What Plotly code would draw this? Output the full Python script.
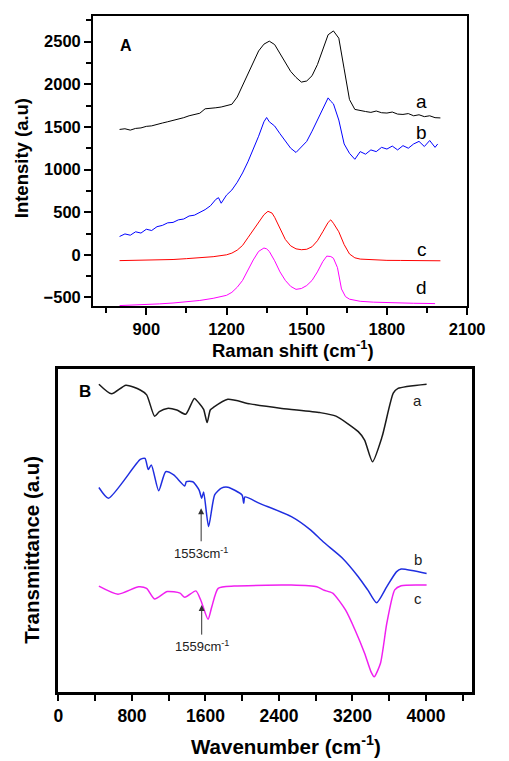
import plotly.graph_objects as go

# ---------------- Panel A: Raman spectra ----------------
raman_a_x = [800, 820, 840, 860, 880, 900, 920, 940, 960, 980, 1000, 1020, 1040, 1060, 1080, 1100,
             1120, 1140, 1160, 1180, 1200, 1220, 1240, 1260, 1280, 1300, 1320, 1340, 1360, 1380,
             1400, 1420, 1440, 1460, 1480, 1500, 1520, 1540, 1560, 1580, 1600, 1620, 1640, 1660,
             1680, 1700, 1720, 1740, 1760, 1780, 1800, 1820, 1840, 1860, 1880, 1900, 1920, 1940,
             1960, 1980, 2000]
raman_a_y = [1470, 1478, 1462, 1482, 1488, 1506, 1512, 1532, 1545, 1560, 1574, 1594, 1608, 1630, 1642, 1660,
             1712, 1716, 1724, 1733, 1750, 1765, 1850, 1990, 2130, 2250, 2390, 2470, 2505, 2465,
             2360, 2250, 2150, 2080, 2025, 2038, 2100, 2230, 2400, 2580, 2625, 2540, 2180, 1820,
             1705, 1690, 1680, 1670, 1686, 1666, 1662, 1674, 1650, 1646, 1656, 1630, 1642, 1620,
             1630, 1608, 1605]

raman_b_x = [800, 820, 840, 860, 880, 900, 920, 940, 960, 980, 1000, 1020, 1040, 1060, 1080, 1100,
             1120, 1140, 1160, 1170, 1180, 1200, 1220, 1240, 1260, 1280, 1300, 1320, 1340, 1350,
             1360, 1380, 1400, 1420, 1440, 1460, 1480, 1500, 1520, 1540, 1560, 1580, 1590, 1600,
             1620, 1640, 1660, 1680, 1700, 1720, 1740, 1760, 1780, 1800, 1820, 1840, 1860, 1880,
             1900, 1920, 1940, 1960, 1980, 1990]
raman_b_y = [215, 245, 230, 270, 255, 300, 285, 330, 345, 375, 380, 410, 420, 455, 465, 500,
             530, 575, 650, 670, 605, 700, 760, 850, 960, 1090, 1230, 1390, 1560, 1610,
             1560, 1510, 1420, 1330, 1250, 1200, 1260, 1330, 1450, 1580, 1720, 1840, 1800, 1770,
             1580, 1300, 1190, 1120, 1210, 1180, 1230, 1210, 1260, 1240, 1275, 1230, 1280, 1250,
             1300, 1330, 1270, 1340, 1260, 1300]

raman_c_x = [800, 850, 900, 950, 1000, 1050, 1100, 1150, 1200, 1220, 1240, 1260, 1280, 1300, 1320,
             1340, 1355, 1370, 1380, 1400, 1420, 1440, 1460, 1480, 1500, 1520, 1540, 1560, 1580,
             1590, 1600, 1620, 1640, 1660, 1680, 1700, 1750, 1800, 1850, 1900, 1950, 2000]
raman_c_y = [-68, -65, -62, -60, -55, -45, -35, -22, 0, 20, 55, 110, 200, 290, 390,
             470, 510, 490, 440, 300, 180, 105, 70, 60, 65, 95, 165, 270, 380,
             410, 370, 270, 120, 10, -35, -50, -60, -65, -66, -68, -68, -70]

raman_d_x = [800, 850, 900, 950, 1000, 1050, 1100, 1150, 1200, 1220, 1240, 1260, 1280, 1300, 1320,
             1340, 1350, 1360, 1380, 1400, 1420, 1440, 1460, 1480, 1500, 1520, 1540, 1560, 1575,
             1590, 1600, 1615, 1630, 1645, 1660, 1700, 1750, 1800, 1850, 1900, 1950, 1980]
raman_d_y = [-595, -590, -585, -575, -565, -550, -535, -510, -475, -440, -380, -300, -180, -60, 40,
             80, 70, 40, -70, -200, -300, -370, -405, -395, -360, -300, -200, -80, -15,
             -20, -40, -150, -400, -490, -520, -545, -555, -562, -565, -568, -570, -572]

# ---------------- Panel B: FTIR spectra ----------------
ftir_a_x = [440, 578, 734, 890, 960, 1046, 1098, 1184, 1288, 1385, 1479, 1531, 1580, 1618, 1652, 1686,
            1843, 2085, 2431, 2847, 3020, 3263, 3332, 3418, 3522, 3644, 3696, 4007]
ftir_a_y = [95.3, 92.3, 95.0, 93.5, 92.0, 85.4, 86.8, 87.8, 87.3, 86.0, 90.9, 89.4, 87.5, 83.4, 87.3, 88.1,
            90.6, 89.2, 87.8, 86.5, 85.4, 80.6, 78.0, 71.3, 79.0, 92.5, 94.0, 95.3]

ftir_b_x = [440, 544, 890, 942, 977, 1011, 1091, 1167, 1254, 1375, 1392, 1462, 1531, 1559, 1580, 1634,
            1700, 1773, 1843, 1998, 2016, 2030, 2189, 2535, 2743, 2881, 3089, 3263, 3366, 3463,
            3574, 3678, 3730, 4007]
ftir_b_y = [63.3, 60.0, 72.0, 72.3, 68.9, 70.3, 62.3, 68.2, 67.2, 63.8, 65.1, 65.1, 62.5, 60.0, 61.9, 51.2,
            61.0, 63.1, 63.4, 61.0, 58.4, 60.4, 58.4, 54.3, 50.2, 46.5, 41.5, 35.7, 31.6, 27.6,
            32.6, 37.2, 38.1, 36.7]

ftir_c_x = [440, 648, 873, 959, 1046, 1184, 1323, 1375, 1496, 1548, 1628, 1669, 1738, 1912, 2431,
            2535, 2812, 2881, 2985, 3124, 3228, 3332, 3401, 3436, 3505, 3574, 3660, 3730, 4007]
ftir_c_y = [32.8, 30.3, 32.6, 32.1, 28.8, 31.1, 30.6, 29.3, 31.3, 28.5, 22.5, 26.4, 32.1, 32.8, 33.1,
            33.1, 32.6, 31.6, 30.6, 25.4, 19.2, 12.0, 6.3, 4.7, 8.9, 21.3, 31.6, 32.9, 33.1]

# peak markers: wavenumber, arrow tip, label height
peak_pos = [1553, 1559]
peak_tip = [56.9, 26.9]
peak_text_y = [43.1, 14.2]

W, H = 509, 761
FONT = "Liberation Sans"

fig = go.Figure()

for xs, ys, col in [(raman_a_x, raman_a_y, "#000000"), (raman_b_x, raman_b_y, "#0000ff"),
                    (raman_c_x, raman_c_y, "#ff0000"), (raman_d_x, raman_d_y, "#ff00ff")]:
    fig.add_trace(go.Scatter(x=xs, y=ys, mode="lines", line=dict(color=col, width=1),
                             xaxis="x", yaxis="y", showlegend=False, hoverinfo="skip"))

for xs, ys, col in [(ftir_a_x, ftir_a_y, "#1a1a1a"), (ftir_b_x, ftir_b_y, "#1f2ee0"),
                    (ftir_c_x, ftir_c_y, "#f020f0")]:
    fig.add_trace(go.Scatter(x=xs, y=ys, mode="lines", line=dict(color=col, width=1.5, shape="spline", smoothing=0.6),
                             xaxis="x2", yaxis="y2", showlegend=False, hoverinfo="skip"))

axis_common = dict(showline=True, linecolor="black", mirror=True, showgrid=False, zeroline=False,
                   ticks="outside", tickcolor="black")
font_a = dict(family=FONT, size=16.5, color="black", weight="bold")
font_b = dict(family=FONT, size=17.5, color="black", weight="bold")

def px_x(p):
    return p / W

def px_y(p):
    return 1 - p / H

fig.update_layout(
    width=W, height=H,
    margin=dict(l=0, r=0, t=0, b=0),
    paper_bgcolor="white", plot_bgcolor="white",
    xaxis=dict(domain=[px_x(92), px_x(484)], range=[700, 2100], anchor="y", tickfont=font_a,
               tickvals=[900, 1200, 1500, 1800, 2100], ticklen=7, tickwidth=1.5, linewidth=1.5,
               minor=dict(tickvals=[750, 1050, 1350, 1650, 1950], ticklen=5, tickwidth=1.5,
                          ticks="outside", tickcolor="black"),
               **axis_common),
    yaxis=dict(domain=[px_y(306), px_y(16)], range=[-600, 2800], anchor="x", tickfont=font_a,
               tickvals=[-500, 0, 500, 1000, 1500, 2000, 2500], ticklen=7, tickwidth=1.5, linewidth=1.5,
               minor=dict(tickvals=[-250, 250, 750, 1250, 1750, 2250, 2750], ticklen=5, tickwidth=1.5,
                          ticks="outside", tickcolor="black"),
               **axis_common),
    xaxis2=dict(domain=[px_x(56), px_x(489)], range=[0, 4500], anchor="y2", tickfont=font_b,
                tickvals=[0, 800, 1600, 2400, 3200, 4000], ticklen=6, tickwidth=2, linewidth=2.5,
                minor=dict(tickvals=[400, 1200, 2000, 2800, 3600, 4400], ticklen=6, tickwidth=2,
                           ticks="outside", tickcolor="black"),
                **axis_common),
    yaxis2=dict(domain=[px_y(692), px_y(369)], range=[0, 100], anchor="x2",
                showline=True, linecolor="black", linewidth=2.5, mirror=True, showgrid=False,
                zeroline=False, ticks="", showticklabels=False),
)

ann = []
title_font = dict(family=FONT, size=18.5, color="black", weight="bold")
ann.append(dict(text="Intensity (a.u)", x=px_x(17), y=px_y(158), xref="paper", yref="paper",
                textangle=-90, showarrow=False, font=title_font, xanchor="center", yanchor="middle"))
ann.append(dict(text="Raman shift (cm<sup>-1</sup>)", x=px_x(302), y=px_y(349), xref="paper", yref="paper",
                showarrow=False, font=title_font, xanchor="center", yanchor="middle"))
title_font2 = dict(family=FONT, size=20.5, color="black", weight="bold")
ann.append(dict(text="Transmittance (a.u)", x=px_x(27), y=px_y(550), xref="paper", yref="paper",
                textangle=-90, showarrow=False, font=title_font2, xanchor="center", yanchor="middle"))
ann.append(dict(text="Wavenumber (cm<sup>-1</sup>)", x=px_x(294), y=px_y(745), xref="paper", yref="paper",
                showarrow=False, font=title_font2, xanchor="center", yanchor="middle"))

# panel letters
ann.append(dict(text="A", x=px_x(118), y=px_y(35), xref="paper", yref="paper", showarrow=False,
                font=dict(family=FONT, size=16, color="black", weight="bold")))
ann.append(dict(text="B", x=px_x(75), y=px_y(391), xref="paper", yref="paper", showarrow=False,
                font=dict(family=FONT, size=17, color="black", weight="bold")))

# curve labels, panel A
for lab, yv in zip(["a", "b", "c", "d"], [1800, 1430, 62, -383]):
    ann.append(dict(text=lab, x=1930, y=yv, xref="x", yref="y", showarrow=False,
                    font=dict(family=FONT, size=19, color="black")))
# curve labels, panel B
for lab, yv in zip(["a", "b", "c"], [90.2, 41.1, 29.0]):
    ann.append(dict(text=lab, x=3910, y=yv, xref="x2", yref="y2", showarrow=False,
                    font=dict(family=FONT, size=15, color="#222222")))

# peak arrows, each pointing up from its wavenumber label
for pos, tip, ty in zip(peak_pos, peak_tip, peak_text_y):
    ann.append(dict(text=f"{pos}cm<sup>-1</sup>", x=pos, y=tip, ax=pos, ay=ty, xref="x2", yref="y2",
                    axref="x2", ayref="y2", showarrow=True, arrowhead=2, arrowsize=1.2,
                    arrowwidth=1, arrowcolor="#333333", standoff=0, startstandoff=2,
                    font=dict(family=FONT, size=13, color="#222222")))

fig.update_layout(annotations=ann)
fig.write_html("out.html")
